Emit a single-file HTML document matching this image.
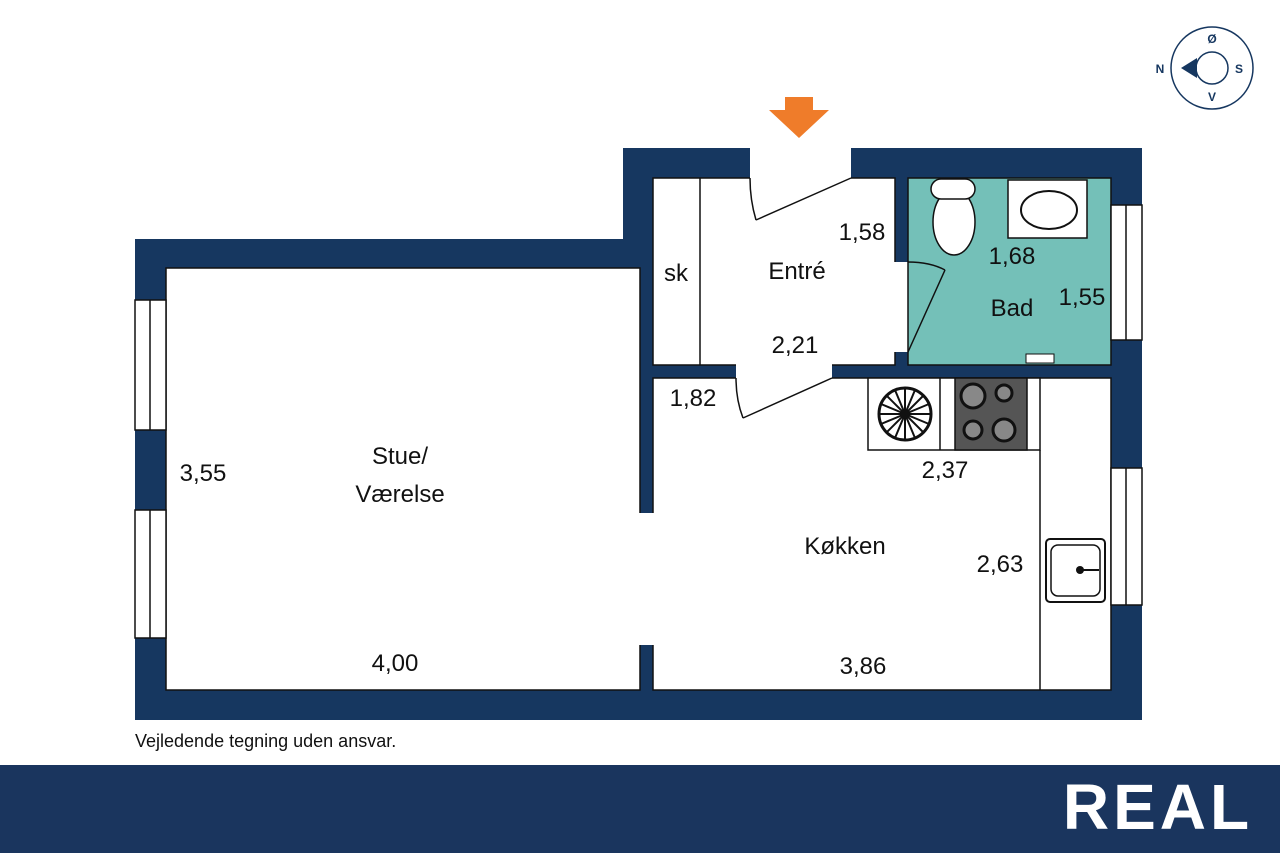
<!DOCTYPE html>
<html><head><meta charset="utf-8"><style>
body{margin:0;background:#fff;width:1280px;height:853px;overflow:hidden;font-family:"Liberation Sans",sans-serif}
</style></head><body>
<svg width="1280" height="853" viewBox="0 0 1280 853" xmlns="http://www.w3.org/2000/svg" font-family="Liberation Sans, sans-serif">
<polygon points="135,239 623,239 623,148 1142,148 1142,720 135,720" fill="#163760"/>
<g fill="#fff" stroke="#111" stroke-width="1.5">
<rect x="166" y="268" width="474" height="422"/>
<rect x="653" y="378" width="458" height="312"/>
<rect x="653" y="178" width="242" height="187"/>
</g>
<g fill="#fff">
<rect x="639" y="513" width="16" height="132"/>
<rect x="736" y="364" width="96" height="15"/>
<rect x="894" y="262" width="15" height="90"/>
<rect x="750" y="147" width="101" height="32"/>
</g>
<rect x="908" y="178" width="203" height="187" fill="#74c0b8" stroke="#111" stroke-width="1.5"/>
<line x1="700" y1="178" x2="700" y2="365" stroke="#111" stroke-width="1.5"/>
<g fill="#fff" stroke="#111" stroke-width="1.5">
<rect x="135" y="300" width="31" height="130"/><line x1="150" y1="300" x2="150" y2="430"/>
<rect x="135" y="510" width="31" height="128"/><line x1="150" y1="510" x2="150" y2="638"/>
<rect x="1111" y="205" width="31" height="135"/><line x1="1126" y1="205" x2="1126" y2="340"/>
<rect x="1111" y="468" width="31" height="137"/><line x1="1126" y1="468" x2="1126" y2="605"/>
</g>
<g fill="none" stroke="#111" stroke-width="1.5">
<path d="M851,178 L756,220 M750,178 Q750,200 756,220"/>
<path d="M832,378 L743,418 M736,378 Q736,400 743,418"/>
<path d="M908,352 L945,270 M908,262 Q930,262 945,270"/>
</g>
<g stroke="#111" stroke-width="1.5">
<rect x="868" y="378" width="172" height="72" fill="#fff"/>
<line x1="1040" y1="450" x2="1040" y2="690"/>
<line x1="940" y1="378" x2="940" y2="450"/>
<rect x="955" y="378" width="72" height="72" fill="#555"/>
</g>
<g fill="#888" stroke="#111" stroke-width="3">
<circle cx="973" cy="396" r="12"/><circle cx="1004" cy="393" r="8"/>
<circle cx="973" cy="430" r="9"/><circle cx="1004" cy="430" r="11"/>
</g>
<circle cx="905" cy="414" r="26" fill="#fff" stroke="#111" stroke-width="3"/>
<g stroke="#111" stroke-width="2">
<line x1="879" y1="414" x2="931" y2="414"/><line x1="905" y1="388" x2="905" y2="440"/>
<line x1="887" y1="396" x2="923" y2="432"/><line x1="923" y1="396" x2="887" y2="432"/>
<line x1="881" y1="404" x2="929" y2="424"/><line x1="881" y1="424" x2="929" y2="404"/>
<line x1="895" y1="390" x2="915" y2="438"/><line x1="915" y1="390" x2="895" y2="438"/>
</g>
<circle cx="905" cy="414" r="5" fill="#111"/>
<rect x="1046" y="539" width="59" height="63" rx="4" fill="#fff" stroke="#111" stroke-width="2"/>
<rect x="1051" y="545" width="49" height="51" rx="7" fill="none" stroke="#111" stroke-width="1.5"/>
<circle cx="1080" cy="570" r="4" fill="#111"/><line x1="1080" y1="570" x2="1099" y2="570" stroke="#111" stroke-width="2"/>
<rect x="1008" y="180" width="79" height="58" fill="#fff" stroke="#111" stroke-width="1.5"/>
<ellipse cx="1049" cy="210" rx="28" ry="19" fill="none" stroke="#111" stroke-width="2"/>
<ellipse cx="954" cy="222" rx="21" ry="33" fill="#fff" stroke="#111" stroke-width="1.5"/>
<rect x="931" y="179" width="44" height="20" rx="10" fill="#fff" stroke="#111" stroke-width="1.5"/>
<rect x="1026" y="354" width="28" height="9" fill="#fff" stroke="#111" stroke-width="1"/>
<polygon points="785,97 813,97 813,110 829,110 799,138 769,110 785,110" fill="#ef7c2a"/>
<circle cx="1212" cy="68" r="41" fill="none" stroke="#163760" stroke-width="1.5"/>
<circle cx="1212" cy="68" r="16" fill="none" stroke="#163760" stroke-width="1.5"/>
<polygon points="1181,68 1197,58 1197,78" fill="#163760"/>
<g font-weight="bold" font-size="12" fill="#163760" text-anchor="middle">
<text x="1212" y="43">Ø</text><text x="1160" y="73">N</text><text x="1239" y="73">S</text><text x="1212" y="101">V</text>
</g>
<g font-size="24" fill="#111" text-anchor="middle">
<text x="676" y="281">sk</text>
<text x="797" y="279">Entré</text>
<text x="862" y="240">1,58</text>
<text x="795" y="353">2,21</text>
<text x="1012" y="264">1,68</text>
<text x="1012" y="316">Bad</text>
<text x="1082" y="305">1,55</text>
<text x="693" y="406">1,82</text>
<text x="945" y="478">2,37</text>
<text x="845" y="554">Køkken</text>
<text x="1000" y="572">2,63</text>
<text x="863" y="674">3,86</text>
<text x="400" y="464">Stue/</text>
<text x="400" y="502">Værelse</text>
<text x="203" y="481">3,55</text>
<text x="395" y="671">4,00</text>
</g>
<text x="135" y="747" font-size="18" fill="#111">Vejledende tegning uden ansvar.</text>
<rect x="0" y="765" width="1280" height="88" fill="#1a355e"/>
<text x="1158" y="829" font-size="64" font-weight="bold" fill="#fff" text-anchor="middle" letter-spacing="4">REAL</text>
</svg>
</body></html>
